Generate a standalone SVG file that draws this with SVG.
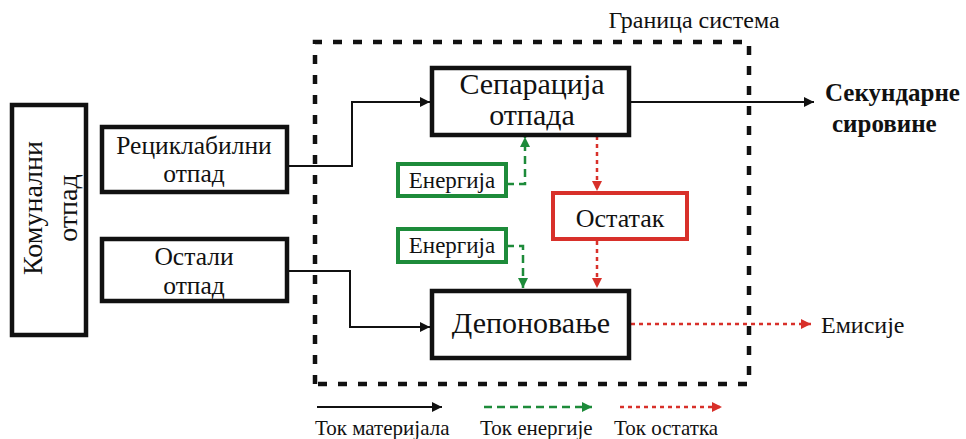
<svg xmlns="http://www.w3.org/2000/svg" width="966" height="439" viewBox="0 0 966 439">
<defs>
<style>
.box{fill:#fff;stroke:#111;stroke-width:4.5;}
.gbox{fill:#fff;stroke:#1d8b3a;stroke-width:4;}
.rbox{fill:#fff;stroke:#d8302a;stroke-width:4;}
.mat{fill:none;stroke:#111;stroke-width:2;}
.en{fill:none;stroke:#1d8b3a;stroke-width:2.5;stroke-dasharray:8 5;}
.res{fill:none;stroke:#d8302a;stroke-width:2.5;stroke-dasharray:4 4;}
.bound{fill:none;stroke:#111;stroke-width:4.5;stroke-dasharray:9 11;}
</style>
<marker id="ab" viewBox="0 0 10 10" refX="10" refY="5" markerWidth="11" markerHeight="10" markerUnits="userSpaceOnUse" orient="auto"><path d="M0,0 L10,5 L0,10 z" fill="#111"/></marker>
<marker id="ag" viewBox="0 0 10 10" refX="10" refY="5" markerWidth="11" markerHeight="10" markerUnits="userSpaceOnUse" orient="auto"><path d="M0,0 L10,5 L0,10 z" fill="#1d8b3a"/></marker>
<marker id="ar" viewBox="0 0 10 10" refX="10" refY="5" markerWidth="11" markerHeight="10" markerUnits="userSpaceOnUse" orient="auto"><path d="M0,0 L10,5 L0,10 z" fill="#d8302a"/></marker>
</defs>
<rect width="966" height="439" fill="#fff"/>

<g id="boundary">
<path class="bound" d="M315,384 V42 H749 V384 Z"/>
<text x="694" y="28" text-anchor="middle" font-size="24" style="font-family:'Liberation Serif',serif" fill="#111">Граница система</text>
</g>

<g id="connectors">
<path class="mat" d="M287,166 H352 V102 H430" marker-end="url(#ab)"/>
<path class="mat" d="M287,271 H350 V327 H430" marker-end="url(#ab)"/>
<path class="mat" d="M629,102 H814" marker-end="url(#ab)"/>
<path class="en" d="M506,184 H525 V137" marker-end="url(#ag)"/>
<path class="en" d="M506,246 H523 V288" marker-end="url(#ag)"/>
<path class="res" d="M597,136 V191" marker-end="url(#ar)"/>
<path class="res" d="M597,241 V288" marker-end="url(#ar)"/>
<path class="res" d="M631,324 H811" marker-end="url(#ar)"/>
</g>

<g id="komunalni">
<rect class="box" x="12" y="105" width="74" height="230"/>
<text transform="translate(42,208) rotate(-90)" text-anchor="middle" font-size="28" style="font-family:'Liberation Serif',serif" fill="#111">Комунални</text>
<text transform="translate(77,208) rotate(-90)" text-anchor="middle" font-size="28" style="font-family:'Liberation Serif',serif" fill="#111">отпад</text>
</g>

<g id="reciklabilni">
<rect class="box" x="102" y="127" width="185" height="65"/>
<text x="194" y="154" text-anchor="middle" font-size="25.5" style="font-family:'Liberation Serif',serif" fill="#111">Рециклабилни</text>
<text x="194" y="182" text-anchor="middle" font-size="25.5" style="font-family:'Liberation Serif',serif" fill="#111">отпад</text>
</g>

<g id="ostali">
<rect class="box" x="102" y="239" width="185" height="62"/>
<text x="194" y="265" text-anchor="middle" font-size="25.5" style="font-family:'Liberation Serif',serif" fill="#111">Остали</text>
<text x="194" y="294" text-anchor="middle" font-size="25.5" style="font-family:'Liberation Serif',serif" fill="#111">отпад</text>
</g>

<g id="separacija">
<rect class="box" x="432" y="68" width="197" height="67"/>
<text x="532" y="94" text-anchor="middle" font-size="30" style="font-family:'Liberation Serif',serif" fill="#111">Сепарација</text>
<text x="532" y="125" text-anchor="middle" font-size="30" style="font-family:'Liberation Serif',serif" fill="#111">отпада</text>
</g>

<g id="energija1">
<rect class="gbox" x="398" y="164" width="108" height="32"/>
<text x="452" y="188" text-anchor="middle" font-size="23" style="font-family:'Liberation Serif',serif" fill="#111">Енергија</text>
</g>

<g id="energija2">
<rect class="gbox" x="398" y="229" width="108" height="33"/>
<text x="452" y="253" text-anchor="middle" font-size="23" style="font-family:'Liberation Serif',serif" fill="#111">Енергија</text>
</g>

<g id="ostatak">
<rect class="rbox" x="553" y="193" width="134" height="46"/>
<text x="620" y="227" text-anchor="middle" font-size="26" style="font-family:'Liberation Serif',serif" fill="#111">Остатак</text>
</g>

<g id="deponovanje">
<rect class="box" x="432" y="291" width="197" height="67"/>
<text x="531" y="333" text-anchor="middle" font-size="30" style="font-family:'Liberation Serif',serif" fill="#111">Депоновање</text>
</g>

<g id="sekundarne">
<text x="825" y="101" font-size="25" font-weight="bold" style="font-family:'Liberation Serif',serif" fill="#111">Секундарне</text>
<text x="832" y="132" font-size="25" font-weight="bold" style="font-family:'Liberation Serif',serif" fill="#111">сировине</text>
</g>

<g id="emisije">
<text x="821" y="333" font-size="24" style="font-family:'Liberation Serif',serif" fill="#111">Емисије</text>
</g>

<g id="legend">
<path class="mat" d="M317,407 H442" marker-end="url(#ab)"/>
<path class="en" d="M484,407 H592" marker-end="url(#ag)"/>
<path class="res" d="M620,407 H722" marker-end="url(#ar)"/>
<text x="315" y="435" font-size="21" style="font-family:'Liberation Serif',serif" fill="#111">Ток материјала</text>
<text x="480" y="435" font-size="21" style="font-family:'Liberation Serif',serif" fill="#111">Ток енергије</text>
<text x="614" y="435" font-size="21" style="font-family:'Liberation Serif',serif" fill="#111">Ток остатка</text>
</g>
</svg>
